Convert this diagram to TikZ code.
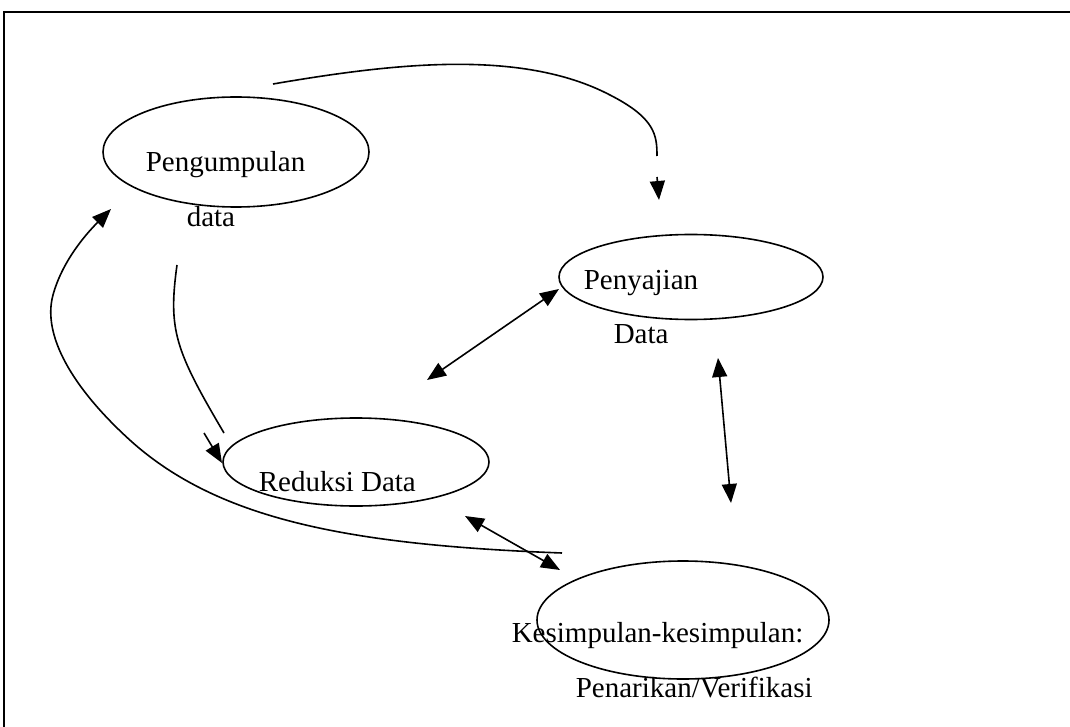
\documentclass[tikz,border=0pt]{standalone}
\usepackage{fontspec}
\setmainfont{Liberation Serif}
\usetikzlibrary{shapes.geometric,arrows.meta}

\begin{document}
\begin{tikzpicture}[x=1pt,y=-1pt,line width=1.6pt,
  blob/.style={draw,ellipse,inner sep=0pt},
  lbl/.style={anchor=base west,inner sep=0pt,font=\fontsize{29}{34}\selectfont},
  tip/.style={-{Triangle[length=19pt,width=15pt]}},
  tips/.style={{Triangle[length=19pt,width=15pt]}-{Triangle[length=19pt,width=15pt]}}]
\useasboundingbox (0,0) rectangle (1070,727);
\draw[line width=1.8pt] (4,760) -- (4,12) -- (1100,12);

\node[blob,minimum width=266pt,minimum height=110pt] (kumpul) at (236,152) {};
\node[blob,minimum width=264pt,minimum height=85pt] (saji) at (691,277) {};
\node[blob,minimum width=266pt,minimum height=88pt] (reduksi) at (356,462) {};
\node[blob,minimum width=292pt,minimum height=118pt] (simpul) at (683,620) {};

\node[lbl] (kumpulA) at (145,172) {Pengumpulan};
\node[lbl] (kumpulB) at (186,227) {data};
\node[lbl] (sajiA) at (583,289) {Penyajian};
\node[lbl] (sajiB) at (613,343) {Data};
\node[lbl] (reduksiA) at (258,491) {Reduksi Data};
\node[lbl] (simpulA) at (511,642) {Kesimpulan-kesimpulan:};
\node[lbl] (simpulB) at (575,697) {Penarikan/Verifikasi};

\coordinate (a1) at (273,84);
\coordinate (a2) at (657,156);
\coordinate (a3) at (657,177);
\coordinate (a4) at (659,200);
\coordinate (b1) at (177,265);
\coordinate (b2) at (224,433);
\coordinate (b3) at (204,433);
\coordinate (b4) at (222,463);
\coordinate (c1) at (427,380);
\coordinate (c2) at (559,289);
\coordinate (d1) at (718,358);
\coordinate (d2) at (731,503);
\coordinate (e1) at (465,516);
\coordinate (e2) at (560,570);
\coordinate (f1) at (562,553);
\coordinate (f2) at (111,209);

\draw (a1) .. controls (390,64) and (520,48) .. (610,95) .. controls (655,118) and (657,135) .. (a2);
\draw[tip] (a3) -- (a4);
\draw (b1) .. controls (168,330) and (175,350) .. (b2);
\draw[tip] (b3) -- (b4);
\draw[tips] (c1) -- (c2);
\draw[tips] (d1) -- (d2);
\draw[tips] (e1) -- (e2);
\draw[tip] (f1) .. controls (350,545) and (220,520) .. (132,442) .. controls (72,388) and (42,335) .. (53,295) .. controls (62,262) and (85,235) .. (f2);
\end{tikzpicture}
\end{document}
